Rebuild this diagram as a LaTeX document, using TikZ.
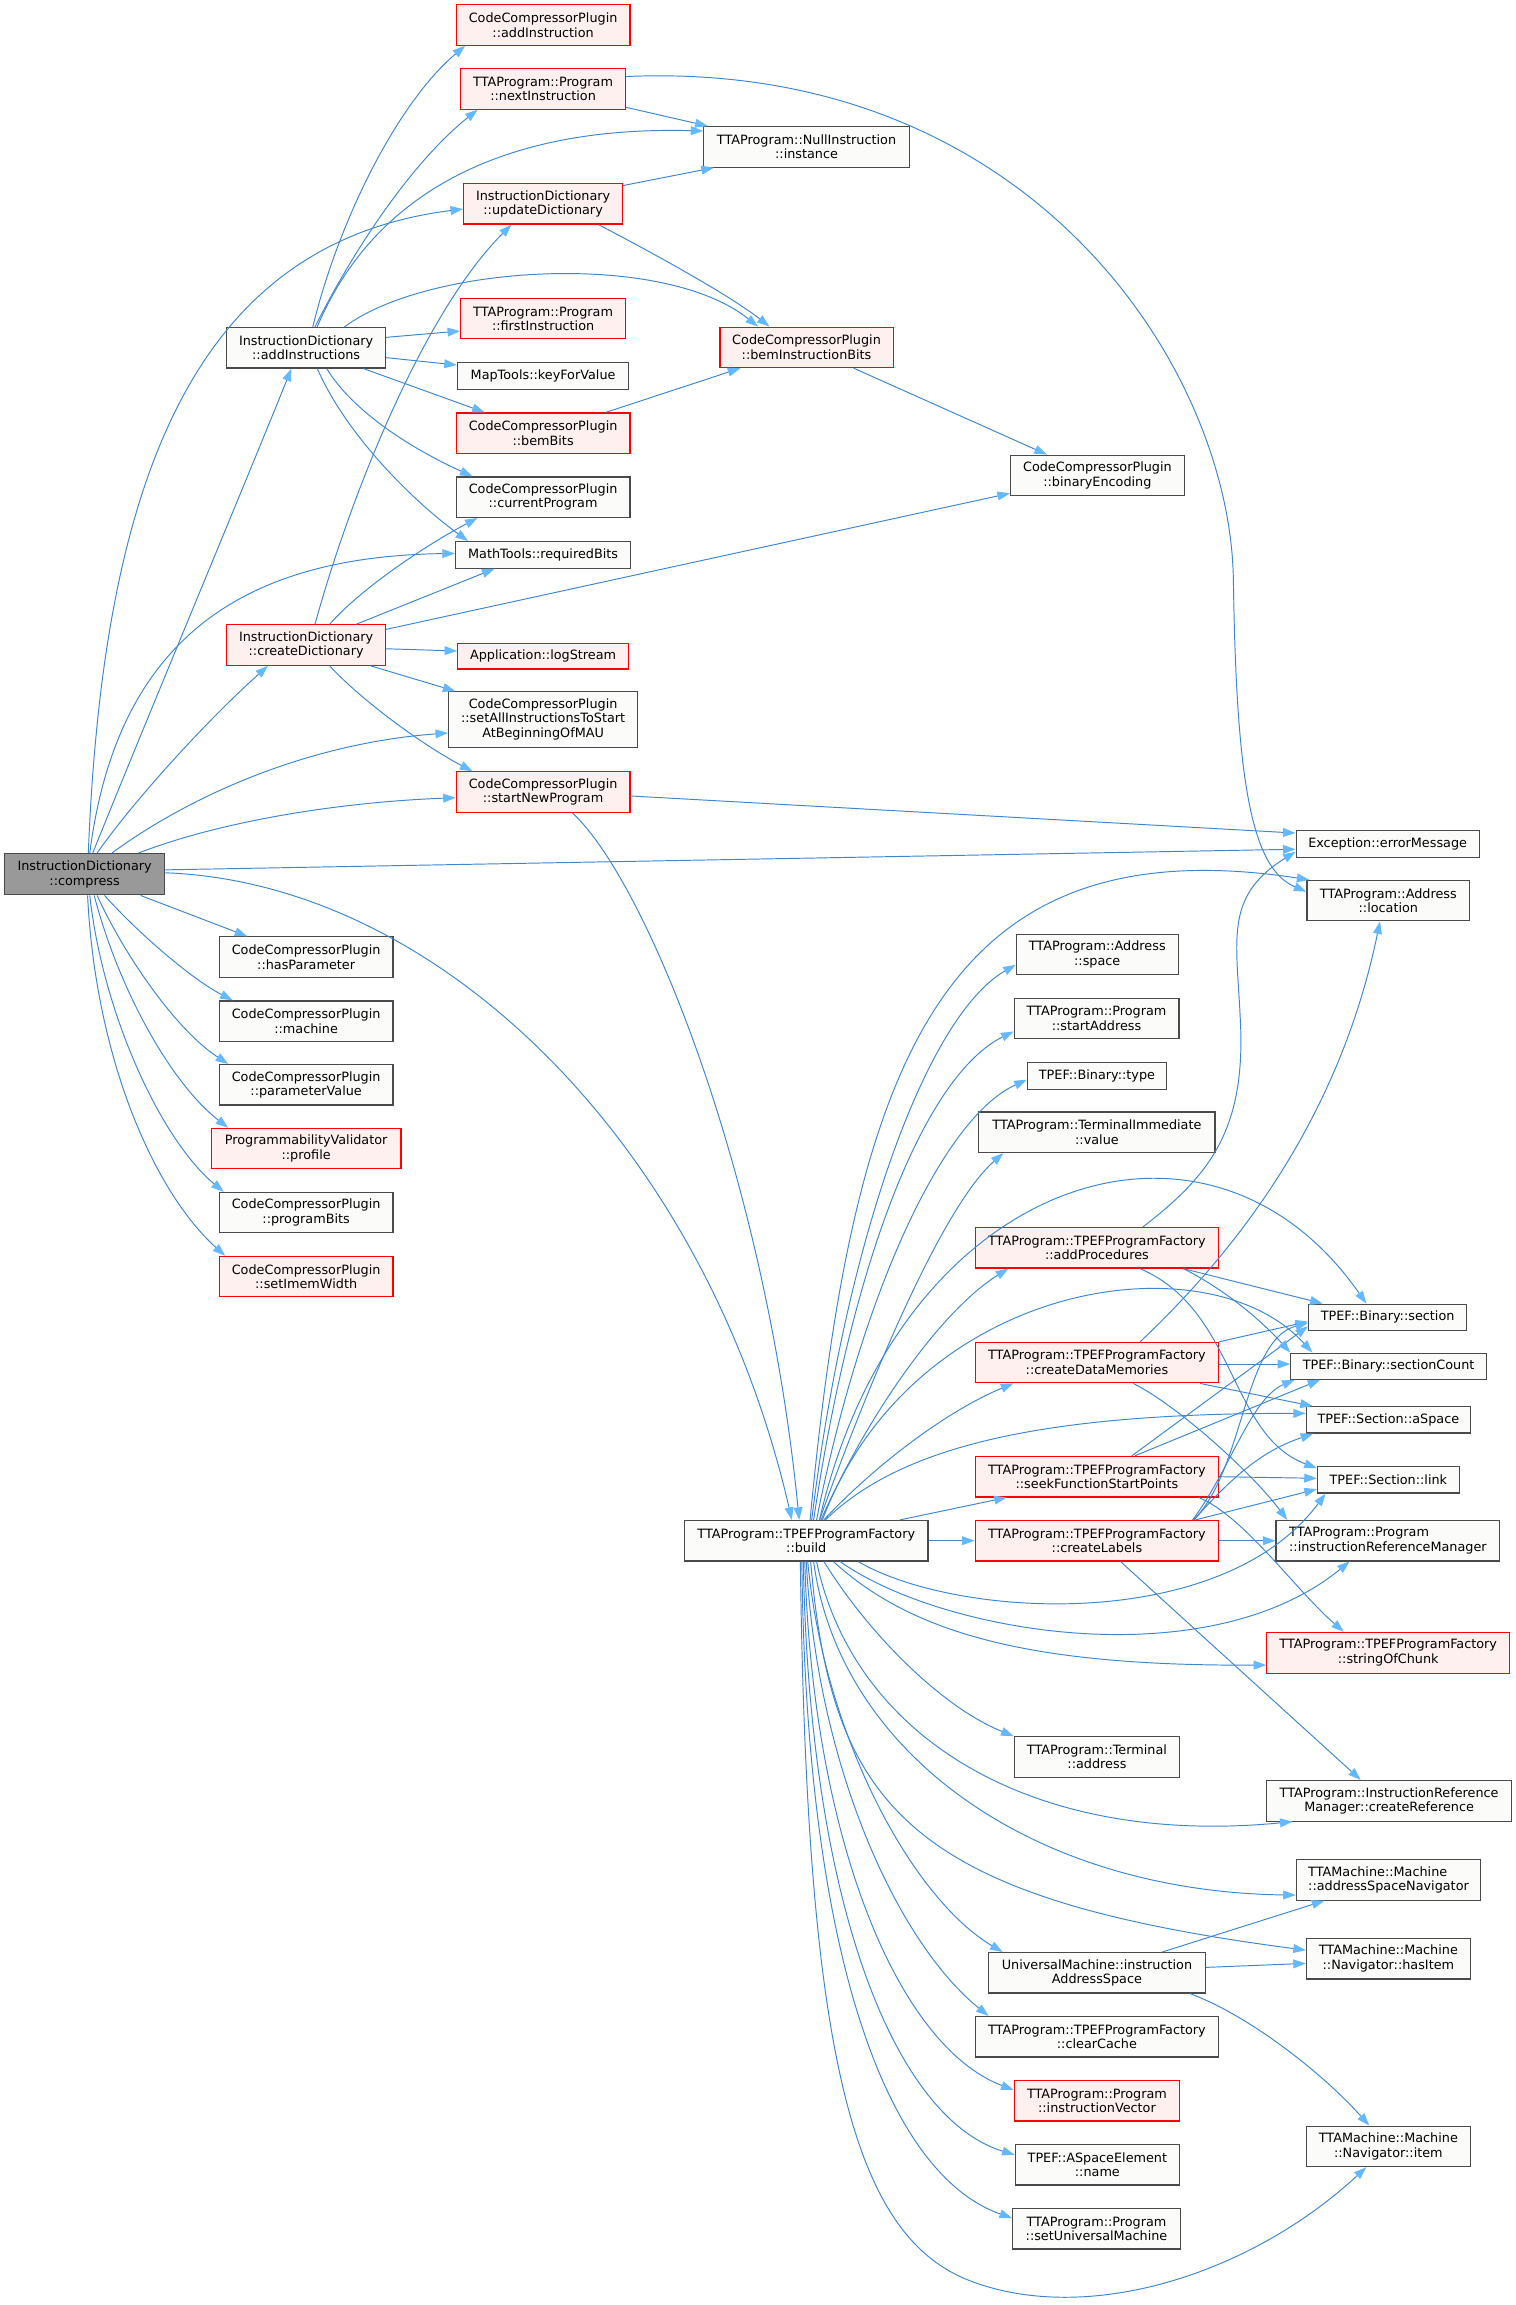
\documentclass[tikz,border=0pt]{standalone}
\usepackage{fontspec}
\setmainfont{DejaVu Sans}
\usetikzlibrary{arrows.meta}
\definecolor{edgeblue}{HTML}{3D86D2}
\definecolor{arrowblue}{HTML}{63B8FF}
\definecolor{nwfill}{HTML}{FBFCFA}
\definecolor{nwdraw}{HTML}{4A4A4A}
\definecolor{nrfill}{HTML}{FFF0F0}
\definecolor{nrdraw}{HTML}{FF0000}
\definecolor{ngfill}{HTML}{999999}
\tikzset{
  nb/.style={draw=nwdraw, fill=nwfill, line width=0.8pt, inner sep=0pt, align=center,
    font=\fontsize{8.7}{9.8}\selectfont, text=black},
  nr/.style={nb, draw=nrdraw, fill=nrfill},
  ng/.style={nb, fill=ngfill},
  sz/.style 2 args={minimum width=#1pt, minimum height=#2pt},
  cg/.style={draw=edgeblue, line width=0.65pt,
    -{Triangle[length=8.5pt,width=6pt,color=arrowblue,fill=arrowblue]}}
}
\begin{document}
\begin{tikzpicture}[x=1pt,y=-1pt]
\useasboundingbox[fill=white] (0,0) rectangle (1030,1566.1);

% ---------- nodes ----------
\node[ng, sz={109}{28}] (cmp) at (57.5,594) {InstructionDictionary\\::compress};
\node[nb, sz={108}{27.5}] (ais) at (208,236.3) {InstructionDictionary\\::addInstructions};
\node[nr, sz={108}{27.5}] (cd) at (208,438.3) {InstructionDictionary\\::createDictionary};
\node[nb, sz={118}{27.5}] (hp) at (208,650.3) {CodeCompressorPlugin\\::hasParameter};
\node[nb, sz={118}{27.5}] (ma) at (208,693.8) {CodeCompressorPlugin\\::machine};
\node[nb, sz={118}{27.5}] (pv) at (208,737) {CodeCompressorPlugin\\::parameterValue};
\node[nr, sz={129}{27.5}] (pr) at (208,780.4) {ProgrammabilityValidator\\::profile};
\node[nb, sz={118}{27.5}] (pb) at (208,823.9) {CodeCompressorPlugin\\::programBits};
\node[nr, sz={118}{27.5}] (iw) at (208,867.4) {CodeCompressorPlugin\\::setImemWidth};

\node[nr, sz={118}{27.5}] (ain) at (369,17) {CodeCompressorPlugin\\::addInstruction};
\node[nr, sz={112}{27.5}] (ni) at (369,60.4) {TTAProgram::Program\\::nextInstruction};
\node[nr, sz={108}{27.5}] (ud) at (369,138.5) {InstructionDictionary\\::updateDictionary};
\node[nr, sz={112}{27.5}] (fi) at (369,216.5) {TTAProgram::Program\\::firstInstruction};
\node[nb, sz={116.5}{18.5}] (kv) at (369,255.3) {MapTools::keyForValue};
\node[nr, sz={118}{27.5}] (bb) at (369,294.3) {CodeCompressorPlugin\\::bemBits};
\node[nb, sz={118}{27.5}] (cp) at (369,337.8) {CodeCompressorPlugin\\::currentProgram};
\node[nb, sz={119}{18}] (rb) at (369,377) {MathTools::requiredBits};
\node[nr, sz={116}{17.5}] (ls) at (369,445.8) {Application::logStream};
\node[nb, sz={128.4}{37.6}] (sa) at (369,488.8) {CodeCompressorPlugin\\::setAllInstructionsToStart\\AtBeginningOfMAU};
\node[nr, sz={118}{27.5}] (sn) at (369,538.2) {CodeCompressorPlugin\\::startNewProgram};

\node[nb, sz={139.6}{27.5}] (nl) at (548,99.8) {TTAProgram::NullInstruction\\::instance};
\node[nr, sz={117.7}{27.5}] (bib) at (548,236) {CodeCompressorPlugin\\::bemInstructionBits};
\node[nb, sz={118}{27.5}] (be) at (745.6,323) {CodeCompressorPlugin\\::binaryEncoding};

\node[nb, sz={165.5}{27.5}] (bu) at (547.8,1046.8) {TTAProgram::TPEFProgramFactory\\::build};

\node[nb, sz={110}{27.5}] (as) at (745.5,648.5) {TTAProgram::Address\\::space};
\node[nb, sz={112}{27.5}] (sad) at (745,692) {TTAProgram::Program\\::startAddress};
\node[nb, sz={94.7}{18}] (bt) at (745.3,731) {TPEF::Binary::type};
\node[nb, sz={160.5}{27.5}] (tiv) at (745.3,769.3) {TTAProgram::TerminalImmediate\\::value};
\node[nr, sz={165.5}{27.5}] (ap) at (745.3,847.8) {TTAProgram::TPEFProgramFactory\\::addProcedures};
\node[nr, sz={165.5}{27.5}] (cdm) at (745.3,925.8) {TTAProgram::TPEFProgramFactory\\::createDataMemories};
\node[nr, sz={165.5}{27.5}] (sf) at (745.3,1003.3) {TTAProgram::TPEFProgramFactory\\::seekFunctionStartPoints};
\node[nr, sz={165.5}{27.5}] (cl) at (745.3,1046.8) {TTAProgram::TPEFProgramFactory\\::createLabels};
\node[nb, sz={112.5}{27.5}] (ta) at (745.3,1193.7) {TTAProgram::Terminal\\::address};
\node[nb, sz={147.4}{27.5}] (ias) at (745.3,1340.4) {UniversalMachine::instruction\\AddressSpace};
\node[nb, sz={165.5}{27.5}] (cc) at (745.3,1383.8) {TTAProgram::TPEFProgramFactory\\::clearCache};
\node[nr, sz={112.5}{27.5}] (iv) at (745.3,1427.3) {TTAProgram::Program\\::instructionVector};
\node[nb, sz={111.7}{27.5}] (an) at (745.6,1470.8) {TPEF::ASpaceElement\\::name};
\node[nb, sz={114}{27.5}] (su) at (745,1514.3) {TTAProgram::Program\\::setUniversalMachine};

\node[nb, sz={124.4}{18.5}] (em) at (942.8,573.3) {Exception::errorMessage};
\node[nb, sz={110.6}{27.5}] (loc) at (943.3,611.9) {TTAProgram::Address\\::location};
\node[nb, sz={107.5}{17.7}] (bs) at (942.8,894.9) {TPEF::Binary::section};
\node[nb, sz={133}{17.7}] (sc) at (943.5,928.2) {TPEF::Binary::sectionCount};
\node[nb, sz={111.4}{17.9}] (sas) at (943.3,964.7) {TPEF::Section::aSpace};
\node[nb, sz={96.5}{18}] (lk) at (943.3,1005.4) {TPEF::Section::link};
\node[nb, sz={152}{27.5}, align=left] (irm) at (943,1046.8) {TTAProgram::Program\\::instructionReferenceManager};
\node[nr, sz={165}{27.8}] (soc) at (943.2,1123) {TTAProgram::TPEFProgramFactory\\::stringOfChunk};
\node[nb, sz={166.4}{27.6}] (cr) at (943.8,1223.5) {TTAProgram::InstructionReference\\Manager::createReference};
\node[nb, sz={125.3}{27.6}, align=left] (asn) at (943.4,1277.2) {TTAMachine::Machine\\::addressSpaceNavigator};
\node[nb, sz={111.4}{27.7}] (hi) at (943.3,1330.7) {TTAMachine::Machine\\::Navigator::hasItem};
\node[nb, sz={111.4}{27.5}] (it) at (943.3,1458.3) {TTAMachine::Machine\\::Navigator::item};

% ---------- edges from compress ----------
\draw[cg] ([xshift=5.5pt]cmp.north) .. controls (95,500) and (170,320) .. ([xshift=-10pt]ais.south);
\draw[cg] ([xshift=8.5pt]cmp.north) .. controls (90,545) and (140,490) .. ([xshift=-26pt]cd.south);
\draw[cg] ([xshift=2.5pt]cmp.north) .. controls (70,330) and (130,165) .. ([yshift=-3.5pt]ud.west);
\draw[cg] ([xshift=3.5pt]cmp.north) .. controls (80,430) and (170,378) .. ([yshift=1pt]rb.west);
\draw[cg] ([xshift=18.5pt]cmp.north) .. controls (130,540) and (210,505) .. ([yshift=-9.2pt]sa.west);
\draw[cg] ([xshift=36.5pt]cmp.north) .. controls (150,558) and (230,545) .. ([yshift=-3.8pt]sn.west);
\draw[cg] ([yshift=3pt]cmp.east) -- ([yshift=-3.7pt]em.west);
\draw[cg] ([yshift=1pt]cmp.east) .. controls (300,600) and (480,780) .. ([xshift=-9.8pt]bu.north);
\draw[cg] ([xshift=38pt]cmp.south) -- ([xshift=-40pt]hp.north);
\draw[cg] ([xshift=13.5pt]cmp.south) .. controls (95,635) and (130,665) .. ([xshift=-50pt]ma.north);
\draw[cg] ([xshift=8.5pt]cmp.south) .. controls (85,650) and (120,700) .. ([xshift=-53pt]pv.north);
\draw[cg] ([xshift=6.5pt]cmp.south) .. controls (80,670) and (115,735) .. ([xshift=-53pt]pr.north);
\draw[cg] ([xshift=3.5pt]cmp.south) .. controls (70,690) and (110,775) .. ([xshift=-56pt]pb.north);
\draw[cg] ([xshift=2pt]cmp.south) .. controls (65,720) and (105,810) .. ([xshift=-55pt]iw.north);

% ---------- addInstructions ----------
\draw[cg] ([xshift=4.5pt]ais.north) .. controls (230,150) and (270,70) .. ([xshift=-53pt]ain.south);
\draw[cg] ([xshift=6pt]ais.north) .. controls (240,170) and (280,110) .. ([xshift=-44.5pt]ni.south);
\draw[cg] ([xshift=7.5pt]ais.north) .. controls (250,140) and (330,85) .. ([yshift=10.8pt]nl.west);
\draw[cg] ([xshift=26pt]ais.north) .. controls (290,180) and (450,170) .. ([xshift=-33pt]bib.north);
\draw[cg] ([yshift=7.1pt]ais.east) -- ([yshift=-8.4pt]fi.west);
\draw[cg] ([yshift=-6.7pt]ais.east) -- ([yshift=7.3pt]kv.west);
\draw[cg] ([xshift=39pt]ais.south) -- ([xshift=-39.7pt]bb.north);
\draw[cg] ([xshift=14pt]ais.south) .. controls (240,280) and (280,305) .. ([xshift=-48pt]cp.north);
\draw[cg] ([xshift=7.6pt]ais.south) .. controls (235,295) and (280,340) .. ([xshift=-51pt]rb.north);

% ---------- top group ----------
\draw[cg] ([yshift=-12.5pt]ni.east) -- ([xshift=3pt]nl.north west);
\draw[cg] ([yshift=8.4pt]ni.east) .. controls (700,40) and (836,250) .. (838,394)
          .. controls (840,530) and (850,590) .. ([yshift=6.1pt]loc.west);
\draw[cg] ([yshift=-1.7pt]ud.north east) -- ([xshift=-63pt]nl.south);
\draw[cg] ([xshift=37.7pt]ud.south) .. controls (440,170) and (495,200) .. ([xshift=-25.2pt]bib.north);
\draw[cg] ([xshift=42.7pt]bb.north) -- ([xshift=-45pt]bib.south);
\draw[cg] ([xshift=32pt]bib.south) -- ([xshift=-34.3pt]be.north);

% ---------- createDictionary ----------
\draw[cg] ([xshift=6pt]cd.north) .. controls (240,330) and (290,210) .. ([xshift=-21.5pt]ud.south);
\draw[cg] ([xshift=16pt]cd.north) .. controls (245,400) and (290,370) .. ([xshift=-44.6pt]cp.south);
\draw[cg] ([xshift=34pt]cd.north) -- ([xshift=-33pt]rb.south);
\draw[cg] ([yshift=10.7pt]cd.east) -- ([yshift=2pt]be.south west);
\draw[cg] ([yshift=-2.5pt]cd.east) -- ([yshift=3.5pt]ls.west);
\draw[cg] ([xshift=44pt]cd.south) -- ([xshift=5pt]sa.north west);
\draw[cg] ([xshift=16pt]cd.south) .. controls (245,475) and (285,505) .. ([xshift=-48pt]sn.north);

% ---------- startNewProgram ----------
\draw[cg] ([yshift=-2.6pt]sn.east) -- ([yshift=7.3pt]em.west);
\draw[cg] ([xshift=20pt]sn.south) .. controls (440,600) and (520,800) .. ([xshift=-4.8pt]bu.north);

% ---------- build ----------
\draw[cg] ([xshift=2.6pt]bu.north) .. controls (580,720) and (640,560) .. ([xshift=2pt]loc.north west);
\draw[cg] ([xshift=3.7pt]bu.north) .. controls (575,840) and (630,690) .. ([yshift=-7pt]as.west);
\draw[cg] ([xshift=5pt]bu.north) .. controls (580,850) and (630,730) .. ([yshift=-8.8pt]sad.west);
\draw[cg] ([xshift=7pt]bu.north) .. controls (585,880) and (640,760) .. ([yshift=-2.6pt]bt.west);
\draw[cg] ([xshift=9pt]bu.north) .. controls (590,940) and (640,820) .. ([xshift=-63.6pt]tiv.south);
\draw[cg] ([xshift=9pt]bu.north) .. controls (610,800) and (820,730) .. ([xshift=-14.5pt]bs.north);
\draw[cg] ([xshift=10pt]bu.north) .. controls (590,960) and (640,890) .. ([xshift=-60.3pt]ap.south);
\draw[cg] ([xshift=11pt]bu.north) .. controls (620,870) and (820,840) .. ([xshift=15pt]sc.north west);
\draw[cg] ([xshift=12pt]bu.north) .. controls (590,1000) and (640,960) .. ([xshift=-56.8pt]cdm.south);
\draw[cg] ([xshift=13pt]bu.north) .. controls (610,985) and (700,960) .. ([yshift=4.4pt]sas.west);
\draw[cg] ([xshift=63.7pt]bu.north) -- ([xshift=-61.3pt]sf.south);
\draw[cg] (bu.east) -- (cl.west);
\draw[cg] ([xshift=35.2pt]bu.south) .. controls (650,1100) and (830,1110) .. ([xshift=6pt]lk.south west);
\draw[cg] ([xshift=23pt]bu.south) .. controls (640,1110) and (820,1140) .. ([xshift=-26pt]irm.south);
\draw[cg] ([xshift=18.4pt]bu.south) .. controls (620,1110) and (700,1132) .. ([yshift=-8.3pt]soc.west);
\draw[cg] ([xshift=12pt]bu.south) .. controls (590,1110) and (640,1160) .. (ta.north west);
\draw[cg] ([xshift=7pt]bu.south) .. controls (580,1180) and (700,1255) .. ([xshift=18pt]cr.south west);
\draw[cg] ([xshift=5pt]bu.south) .. controls (570,1190) and (700,1285) .. ([yshift=-10.4pt]asn.west);
\draw[cg] ([xshift=3pt]bu.south) .. controls (565,1230) and (620,1290) .. ([yshift=5.7pt]hi.west);
\draw[cg] ([xshift=1pt]bu.south) .. controls (560,1180) and (620,1290) .. ([xshift=10pt]ias.north west);
\draw[cg] (bu.south) .. controls (555,1200) and (610,1320) .. ([xshift=9.5pt]cc.north west);
\draw[cg] ([xshift=-1pt]bu.south) .. controls (552,1250) and (610,1390) .. ([yshift=7.3pt]iv.west);
\draw[cg] ([xshift=-2pt]bu.south) .. controls (550,1300) and (610,1440) .. ([yshift=6.8pt]an.west);
\draw[cg] ([xshift=-3pt]bu.south) .. controls (548,1350) and (610,1480) .. ([yshift=7.3pt]su.west);
\draw[cg] ([xshift=-4pt]bu.south) .. controls (548,1400) and (580,1520) .. (660,1550)
          .. controls (740,1580) and (850,1545) .. ([xshift=-15pt]it.south);

% ---------- createLabels ----------
\draw[cg] (cl.east) -- (irm.west);
\draw[cg] ([xshift=16pt]cl.south) -- ([xshift=-19.3pt]cr.north);
\draw[cg] ([xshift=65.5pt]cl.north) .. controls (845,1000) and (845,910) .. ([yshift=-4pt]bs.west);
\draw[cg] ([xshift=65pt]cl.north) .. controls (835,1000) and (850,950) .. ([xshift=3pt]sc.south west);
\draw[cg] ([xshift=66pt]cl.north) .. controls (840,1000) and (860,985) .. ([xshift=5pt]sas.south west);
\draw[cg] ([xshift=67pt]cl.north) -- ([yshift=3pt]lk.south west);

% ---------- seekFunctionStartPoints ----------
\draw[cg] ([xshift=23.7pt]sf.north) -- ([yshift=3pt]bs.south west);
\draw[cg] ([xshift=25.7pt]sf.north) -- ([xshift=-46.5pt]sc.south);
\draw[cg] (sf.east) -- ([yshift=1pt]lk.west);
\draw[cg] ([xshift=69.2pt]sf.south) .. controls (845,1030) and (880,1080) .. ([xshift=-30.2pt]soc.north);

% ---------- createDataMemories ----------
\draw[cg] ([xshift=29.3pt]cdm.north) .. controls (840,850) and (910,760) .. ([xshift=-5.7pt]loc.south);
\draw[cg] (cdm.north east) -- ([yshift=-3pt]bs.west);
\draw[cg] ([yshift=-1pt]cdm.east) -- ([yshift=1.4pt]sc.west);
\draw[cg] ([xshift=70pt]cdm.south) -- ([xshift=4.7pt]sas.north west);
\draw[cg] ([xshift=24.7pt]cdm.south) .. controls (800,955) and (850,1000) .. ([xshift=8pt]irm.north west);

% ---------- addProcedures ----------
\draw[cg] ([xshift=31.2pt]ap.north) .. controls (820,800) and (845,770) .. (843,700)
          .. controls (841,640) and (830,610) .. ([yshift=-5.4pt]em.west);
\draw[cg] ([xshift=58.7pt]ap.south) -- ([xshift=10pt]bs.north west);
\draw[cg] ([xshift=58.7pt]ap.south) .. controls (830,875) and (855,895) .. (sc.north west);
\draw[cg] ([xshift=29.3pt]ap.south) .. controls (840,890) and (835,975) .. ([yshift=-1.5pt]lk.north west);

% ---------- instructionAddressSpace ----------
\draw[cg] ([xshift=44.4pt]ias.north) -- ([xshift=-43.6pt]asn.south);
\draw[cg] ([yshift=3.7pt]ias.east) -- ([yshift=-3.3pt]hi.west);
\draw[cg] ([xshift=63.4pt]ias.south) .. controls (850,1370) and (900,1410) .. ([xshift=-13pt]it.north);
\end{tikzpicture}
\end{document}
